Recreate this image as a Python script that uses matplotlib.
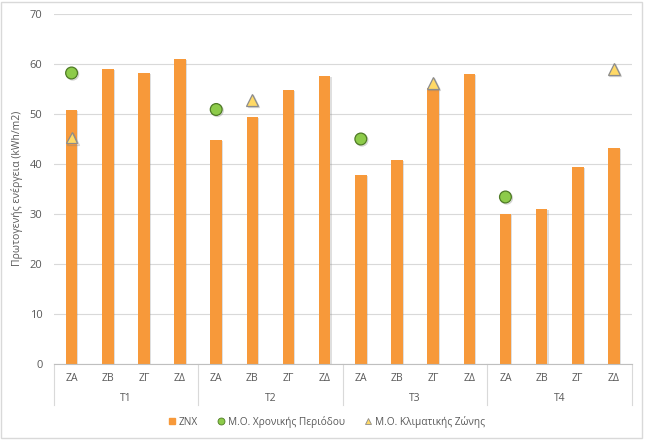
import numpy as np
import matplotlib.pyplot as plt
import matplotlib.patheffects as pe
from matplotlib.lines import Line2D
from matplotlib.patches import Rectangle

plt.rcParams['font.family'] = ['Open Sans', 'DejaVu Sans']

groups = ["T1", "T2", "T3", "T4"]
zones = ["ZA", "ZB", "ZΓ", "ZΔ"]

znx = [50.7, 58.9, 58.1, 60.9,
       44.8, 49.4, 54.7, 57.5,
       37.8, 40.7, 55.2, 58.0,
       29.9, 31.0, 39.4, 43.2]

# M.O. Χρονικής Περιόδου (circles), NaN where missing
period_avg = [58.1, np.nan, np.nan, np.nan,
              50.8, np.nan, np.nan, np.nan,
              44.9, np.nan, np.nan, np.nan,
              33.3, np.nan, np.nan, np.nan]

# M.O. Κλιματικής Ζώνης (triangles)
zone_avg = [45.2, np.nan, np.nan, np.nan,
            np.nan, 52.7, np.nan, np.nan,
            np.nan, np.nan, 56.1, np.nan,
            np.nan, np.nan, np.nan, 58.9]

ORANGE = "#F7993A"
GREEN = "#8DCB4A"
YELLOW = "#FFD966"
TXT = "#595959"


def main():
    fig = plt.figure(figsize=(6.46, 4.40), dpi=100)
    fig.patches.append(Rectangle((0.002, 0.005), 0.992, 0.99, transform=fig.transFigure,
                                 fill=False, edgecolor="#D9D9D9", lw=1))
    ax = fig.add_axes([53.5 / 646, 1 - 363.5 / 440, (632 - 53.5) / 646, 350 / 440])

    x = np.arange(len(znx))
    shadow = [pe.SimplePatchShadow(offset=(0.8, -0.8), shadow_rgbFace="#808080", alpha=0.25),
              pe.Normal()]
    ax.bar(x, znx, width=0.32, color=ORANGE, zorder=2, path_effects=shadow)

    mshadow = [pe.SimpleLineShadow(offset=(0.8, -0.8), shadow_color="#808080", alpha=0.35),
               pe.Normal()]
    ax.plot(x, period_avg, linestyle="none", marker="o", markersize=8.5,
            markerfacecolor=GREEN, markeredgecolor="#4E7A25", markeredgewidth=0.9,
            zorder=3, path_effects=mshadow)
    ax.plot(x, zone_avg, linestyle="none", marker="^", markersize=8.5,
            markerfacecolor=YELLOW, markeredgecolor="#8C8C8C", markeredgewidth=0.9,
            zorder=3, path_effects=mshadow)

    ax.set_xlim(-0.5, len(znx) - 0.5)
    ax.set_ylim(0, 70)
    ax.set_yticks(range(0, 71, 10))
    ax.tick_params(axis="y", length=0, labelsize=8, labelcolor=TXT, pad=8)
    ax.set_xticks([])
    ax.grid(axis="y", color="#D9D9D9", lw=0.8, zorder=0)
    for s in ["top", "right", "left"]:
        ax.spines[s].set_visible(False)
    ax.spines["bottom"].set_color("#BFBFBF")
    ax.spines["bottom"].set_zorder(4)

    ax.set_ylabel("Πρωτογενής ενέργεια (kWh/m2)", fontsize=7.5, color=TXT, labelpad=5)

    # two-level category axis
    trans = ax.get_xaxis_transform()
    px = 1 / 350
    for i in range(len(znx)):
        ax.text(i, -14.5 * px, zones[i % 4], transform=trans, ha="center", va="center",
                fontsize=7.5, color=TXT, clip_on=False)
    for g, name in enumerate(groups):
        ax.text(g * 4 + 1.5, -35 * px, name, transform=trans, ha="center", va="center",
                fontsize=7.5, color=TXT, clip_on=False)
    for b in range(len(groups) + 1):
        ax.add_line(Line2D([b * 4 - 0.5] * 2, [0, -41.5 * px], transform=trans,
                           color="#D9D9D9", lw=0.8, clip_on=False))

    handles = [
        Line2D([], [], linestyle="none", marker="s", markersize=5,
               markerfacecolor=ORANGE, markeredgecolor=ORANGE),
        Line2D([], [], linestyle="none", marker="o", markersize=5,
               markerfacecolor=GREEN, markeredgecolor="#4E7A25", markeredgewidth=0.6),
        Line2D([], [], linestyle="none", marker="^", markersize=5,
               markerfacecolor=YELLOW, markeredgecolor="#8C8C8C", markeredgewidth=0.6),
    ]
    labels = ["ZNX", "Μ.Ο. Χρονικής Περιόδου", "Μ.Ο. Κλιματικής Ζώνης"]
    fig.legend(handles, labels, loc="center", bbox_to_anchor=(326 / 646, 1 - 421.5 / 440),
               ncol=3, frameon=False, fontsize=7.3, labelcolor=TXT,
               handletextpad=0.15, columnspacing=1.8, handlelength=1)

    fig.savefig("out.png", dpi=100)


if __name__ == "__main__":
    main()
